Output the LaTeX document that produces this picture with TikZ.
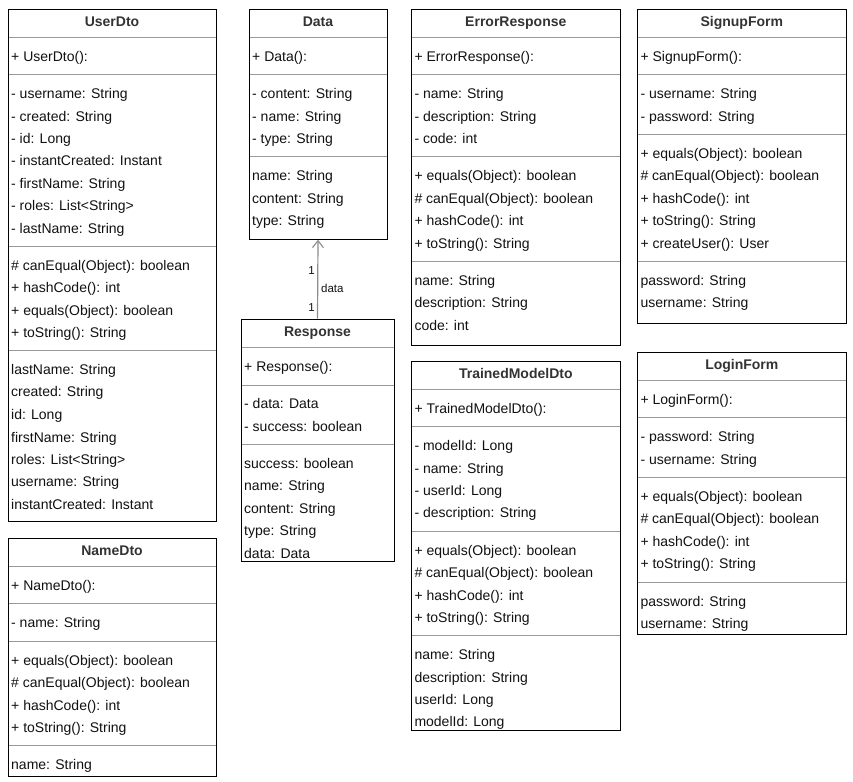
\documentclass[tikz,border=0pt]{standalone}
\usepackage{fontspec}
\setmainfont{Liberation Sans}
\usetikzlibrary{fit,arrows.meta}
\definecolor{sepgray}{HTML}{9A9A9A}
\definecolor{titlegray}{HTML}{333333}
\definecolor{textblack}{HTML}{111111}
\definecolor{linkgray}{HTML}{8C8C8C}
\tikzset{
  classbox/.style={draw=black, line width=1pt, inner sep=0pt, rectangle},
  sepline/.style={draw=sepgray, line width=0.9pt},
  classtitle/.style={anchor=base, inner sep=0pt, text=titlegray, font=\fontsize{14pt}{16pt}\selectfont\bfseries},
  member/.style={anchor=base west, inner sep=0pt, text=textblack, font=\fontsize{14pt}{16pt}\selectfont},
  assoc/.style={draw=linkgray, line width=1.2pt, -{Straight Barb[length=7pt,width=11pt,line width=1.1pt]}},
  multlabel/.style={inner sep=0pt, text=textblack, font=\fontsize{11.5pt}{13pt}\selectfont},
}
\newcommand{\umlclass}[8]{%
  \foreach \sy in {#8} \draw[sepline] (#2,\sy) -- (#4,\sy);
  \node[classbox, fit={(#2,#3) (#4,#5)}] (#1) {};
  \node[classtitle] (#1-title) at ({(#2+#4)/2},{#7+5}) {#6};
}
\newcommand{\umlmembers}[3]{%
  \foreach \ty/\tx [count=\i] in {#3} \node[member] (#1-m\i) at ({#2+3},{\ty+5.3}) {\tx};
}
\begin{document}
\begin{tikzpicture}[x=1pt,y=-1pt]
\useasboundingbox (0,0) rectangle (853,781);
\fill[white] (0,0) rectangle (853,781);

% UserDto
\umlclass{userdto}{8}{10}{216}{521}{UserDto}{21.5}{37.5,74,246,350}
\umlmembers{userdto}{8}{56/+ UserDto():, 93/- username: String, 116/- created: String, 138/- id: Long, 160/- instantCreated: Instant, 183/- firstName: String, 205/- roles: List<String>, 228/- lastName: String, 265/\# canEqual(Object): boolean, 287/+ hashCode(): int, 310/+ equals(Object): boolean, 332/+ toString(): String, 369/lastName: String, 391/created: String, 414/id: Long, 437/firstName: String, 459/roles: List<String>, 481/username: String, 504/instantCreated: Instant}

% NameDto
\umlclass{namedto}{8}{538.5}{216}{776}{NameDto}{550}{566.5,603.5,641.3,745.7}
\umlmembers{namedto}{8}{585/+ NameDto():, 622/- name: String, 660/+ equals(Object): boolean, 682/\# canEqual(Object): boolean, 705/+ hashCode(): int, 727/+ toString(): String, 764/name: String}

% Data
\umlclass{data}{249}{10}{387}{239.3}{Data}{21.5}{37.5,74,156}
\umlmembers{data}{249}{56/+ Data():, 93/- content: String, 116/- name: String, 138/- type: String, 175/name: String, 198/content: String, 220/type: String}

% Response
\umlclass{response}{241}{319}{394}{561}{Response}{331}{347.5,385,444}
\umlmembers{response}{241}{366/+ Response():, 403/- data: Data, 426/- success: boolean, 463/success: boolean, 485/name: String, 508/content: String, 530/type: String, 553/data: Data}

% ErrorResponse
\umlclass{errorresponse}{411.3}{10}{620.3}{345.3}{ErrorResponse}{21.5}{37.5,74,156,261.3}
\umlmembers{errorresponse}{411.3}{56/+ ErrorResponse():, 93/- name: String, 116/- description: String, 138/- code: int, 175/+ equals(Object): boolean, 198/\# canEqual(Object): boolean, 220/+ hashCode(): int, 243/+ toString(): String, 280/name: String, 302/description: String, 325/code: int}

% TrainedModelDto
\umlclass{trainedmodeldto}{411.3}{361.7}{620.3}{730.7}{TrainedModelDto}{373}{389.3,426.3,531,635.3}
\umlmembers{trainedmodeldto}{411.3}{408/+ TrainedModelDto():, 445/- modelId: Long, 468/- name: String, 490/- userId: Long, 512/- description: String, 550/+ equals(Object): boolean, 572/\# canEqual(Object): boolean, 595/+ hashCode(): int, 617/+ toString(): String, 654/name: String, 677/description: String, 699/userId: Long, 721/modelId: Long}

% SignupForm
\umlclass{signupform}{637.3}{10}{846.3}{323}{SignupForm}{21.5}{37.5,74,134,261.3}
\umlmembers{signupform}{637.3}{56/+ SignupForm():, 93/- username: String, 116/- password: String, 153/+ equals(Object): boolean, 175/\# canEqual(Object): boolean, 198/+ hashCode(): int, 220/+ toString(): String, 243/+ createUser(): User, 280/password: String, 302/username: String}

% LoginForm
\umlclass{loginform}{637.3}{352.5}{846.3}{634}{LoginForm}{364.7}{380.7,417.3,477.3,582.3}
\umlmembers{loginform}{637.3}{399.5/+ LoginForm():, 436.5/- password: String, 459/- username: String, 496/+ equals(Object): boolean, 518/\# canEqual(Object): boolean, 541/+ hashCode(): int, 563/+ toString(): String, 601/password: String, 623/username: String}

% association Response -> Data
\draw[assoc] (response.north) -- (data.south);
\node[multlabel, anchor=base east] (multdata) at (315,274) {1};
\node[multlabel, anchor=base east] (multresp) at (315,311) {1};
\node[multlabel, anchor=base west] (roledata) at (321,292) {data};
\end{tikzpicture}
\end{document}
